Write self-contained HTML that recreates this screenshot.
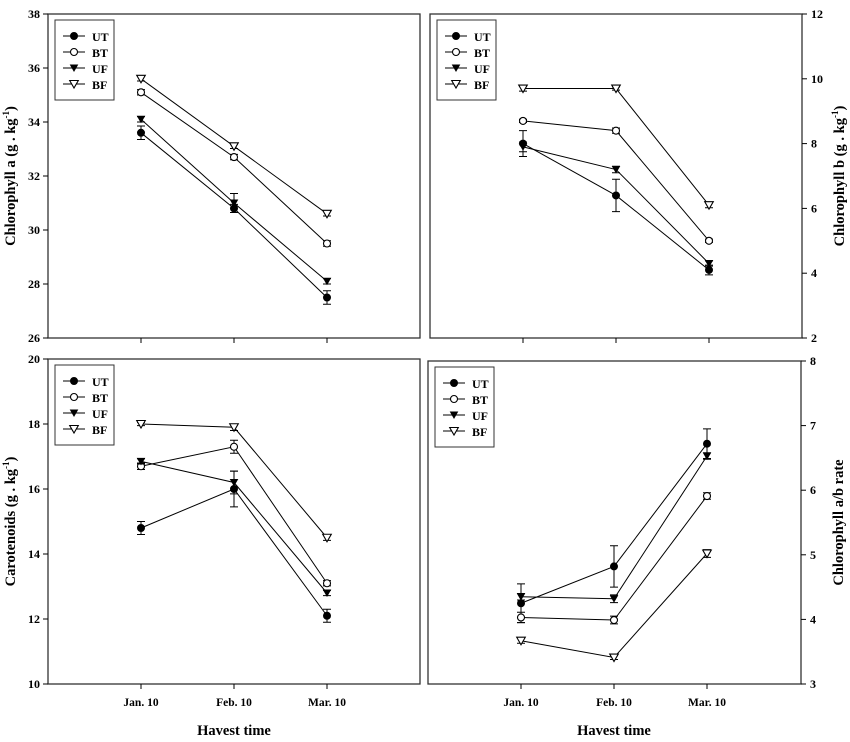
<!DOCTYPE html>
<html><head><meta charset="utf-8"><style>
body{margin:0;background:#fff;}
svg{display:block;font-family:"Liberation Serif",serif;font-weight:bold;}
</style></head><body>
<svg id="c" width="850" height="742" viewBox="0 0 850 742"></svg>
<script>
const months=["Jan. 10","Feb. 10","Mar. 10"];
const seriesNames=["UT","BT","UF","BF"];
// Chlorophyll a
const chlA_UT=[33.6,30.8,27.5],chlA_BT=[35.1,32.7,29.5],chlA_UF=[34.1,31.0,28.1],chlA_BF=[35.6,33.1,30.6];
const chlA_errUT=[0.25,0.15,0.25],chlA_errBT=[0.1,0.1,0.1],chlA_errUF=[0.1,0.35,0.1],chlA_errBF=[0.08,0.08,0.08];
const chlA_ticks=[26,28,30,32,34,36,38];
// Chlorophyll b
const chlB_UT=[8.0,6.4,4.1],chlB_BT=[8.7,8.4,5.0],chlB_UF=[7.9,7.2,4.3],chlB_BF=[9.7,9.7,6.1];
const chlB_errUT=[0.4,0.5,0.15],chlB_errBT=[0.05,0.08,0.05],chlB_errUF=[0.15,0.1,0.08],chlB_errBF=[0.08,0.05,0.08];
const chlB_ticks=[2,4,6,8,10,12];
// Carotenoids
const car_UT=[14.8,16.0,12.1],car_BT=[16.7,17.3,13.1],car_UF=[16.85,16.2,12.8],car_BF=[18.0,17.9,14.5];
const car_errUT=[0.2,0.55,0.2],car_errBT=[0.1,0.2,0.08],car_errUF=[0.08,0.35,0.08],car_errBF=[0.05,0.1,0.08];
const car_ticks=[10,12,14,16,18,20];
// a/b rate
const ab_UT=[4.25,4.82,6.72],ab_BT=[4.03,3.99,5.91],ab_UF=[4.35,4.32,6.53],ab_BF=[3.67,3.41,5.02];
const ab_errUT=[0.3,0.32,0.23],ab_errBT=[0.08,0.06,0.05],ab_errUF=[0.05,0.06,0.05],ab_errBF=[0.04,0.03,0.06];
const ab_ticks=[3,4,5,6,7,8];

const NS="http://www.w3.org/2000/svg";
const svg=document.getElementById('c');
function mk(tag,attrs,parent){const e=document.createElementNS(NS,tag);for(const k in attrs)e.setAttribute(k,attrs[k]);(parent||svg).appendChild(e);return e;}

function marker(g,kind,x,y){
  let e;
  if(kind==="UT")e=mk('circle',{cx:x,cy:y,r:3.5,fill:'#000',stroke:'#000'},g);
  else if(kind==="BT")e=mk('circle',{cx:x,cy:y,r:3.5,fill:'#fff',stroke:'#000','stroke-width':1.1},g);
  else if(kind==="UF")e=mk('path',{d:`M${x-4.3},${y-3.5}L${x+4.3},${y-3.5}L${x},${y+4}Z`,fill:'#000'},g);
  else e=mk('path',{d:`M${x-4.3},${y-3.5}L${x+4.3},${y-3.5}L${x},${y+4}Z`,fill:'#fff',stroke:'#000','stroke-width':1.1},g);
  return e;
}

function panel(o){
  const g=mk('g',{});
  
  
  const {x0,x1,y0,y1,min,max}=o;
  const ys=v=>y1-(v-min)/(max-min)*(y1-y0);
  const xs=i=>o.xt[0]+i*(o.xt[1]-o.xt[0]);
  const frame=mk('rect',{x:x0,y:y0,width:x1-x0,height:y1-y0,fill:'none',stroke:'#333','stroke-width':1.3},g);
  
  
  const ax=o.right?x1:x0;
  o.ticks.forEach(t=>{
    const y=ys(t);
    mk('line',{x1:o.right?ax:ax-5,x2:o.right?ax+5:ax,y1:y,y2:y,stroke:'#000'},g);
    const tx=mk('text',{x:o.right?ax+9:ax-8,y:y+4,'font-size':12,'text-anchor':o.right?'start':'end'},g);
    tx.textContent=t;
    
    
  });
  months.forEach((m,i)=>{
    mk('line',{x1:xs(i),x2:xs(i),y1:y1,y2:y1+5,stroke:'#000'},g);
    if(o.xlabels){
      const tx=mk('text',{x:xs(i),y:y1+22,'font-size':11.5,'text-anchor':'middle'},g);
      tx.textContent=m;
      
      
    }
  });
  const lx=o.right?x1+42:x0-33, ly=(y0+y1)/2;
  const yt=mk('text',{x:lx,y:ly,'font-size':14.5,'text-anchor':'middle',transform:`rotate(-90 ${lx} ${ly})`},g);
  yt.innerHTML=o.ytitle;
  
  
  o.data.forEach((s,si)=>{
    const sg=mk('g',{},g);
    
    
    mk('polyline',{points:s.v.map((v,i)=>xs(i)+','+ys(v)).join(' '),fill:'none',stroke:'#000','stroke-width':1},sg);
    s.v.forEach((v,i)=>{
      const e=s.e[i],x=xs(i),a=ys(v+e),b=ys(v-e);
      mk('path',{d:`M${x},${a}V${b}M${x-4},${a}H${x+4}M${x-4},${b}H${x+4}`,stroke:'#000','stroke-width':1,fill:'none'},sg);
      const mm=marker(sg,seriesNames[si],x,ys(v));
      
      
    });
  });
  const lg=mk('g',{},g);
  
  
  mk('rect',{x:x0+7,y:y0+6,width:59,height:80,fill:'#fff',stroke:'#333','stroke-width':1},lg);
  seriesNames.forEach((n,i)=>{
    const yy=y0+22+i*16;
    const le=mk('g',{},lg);
    
    
    mk('line',{x1:x0+15,x2:x0+37,y1:yy,y2:yy,stroke:'#000'},le);
    marker(le,n,x0+26,yy);
    const t=mk('text',{x:x0+44,y:yy+5,'font-size':12},le);
    t.textContent=n;
  });
}
const sup='<tspan>(g . kg</tspan><tspan dy="-6" font-size="9">-1</tspan><tspan dy="6">)</tspan>';
panel({name:'chlorophyll-a-panel',x0:48,x1:420,y0:14,y1:338,min:26,max:38,xt:[141,234],ticks:chlA_ticks,
  ytitle:'Chlorophyll a '+sup,data:[{v:chlA_UT,e:chlA_errUT},{v:chlA_BT,e:chlA_errBT},{v:chlA_UF,e:chlA_errUF},{v:chlA_BF,e:chlA_errBF}]});
panel({name:'chlorophyll-b-panel',right:true,x0:430,x1:802,y0:14,y1:338,min:2,max:12,xt:[523,616],ticks:chlB_ticks,
  ytitle:'Chlorophyll b '+sup,data:[{v:chlB_UT,e:chlB_errUT},{v:chlB_BT,e:chlB_errBT},{v:chlB_UF,e:chlB_errUF},{v:chlB_BF,e:chlB_errBF}]});
panel({name:'carotenoids-panel',xlabels:true,x0:48,x1:420,y0:359,y1:684,min:10,max:20,xt:[141,234],ticks:car_ticks,
  ytitle:'Carotenoids '+sup,data:[{v:car_UT,e:car_errUT},{v:car_BT,e:car_errBT},{v:car_UF,e:car_errUF},{v:car_BF,e:car_errBF}]});
panel({name:'ab-rate-panel',right:true,xlabels:true,x0:428,x1:801,y0:361,y1:684,min:3,max:8,xt:[521,614],ticks:ab_ticks,
  ytitle:'Chlorophyll a/b rate',data:[{v:ab_UT,e:ab_errUT},{v:ab_BT,e:ab_errBT},{v:ab_UF,e:ab_errUF},{v:ab_BF,e:ab_errBF}]});
[[234,'x-axis-title-left'],[614,'x-axis-title-right']].forEach(([x,n])=>{
  const t=mk('text',{x:x,y:735,'font-size':14.5,'text-anchor':'middle'});
  t.textContent='Havest time';
  
  
});
</script>
</body></html>
